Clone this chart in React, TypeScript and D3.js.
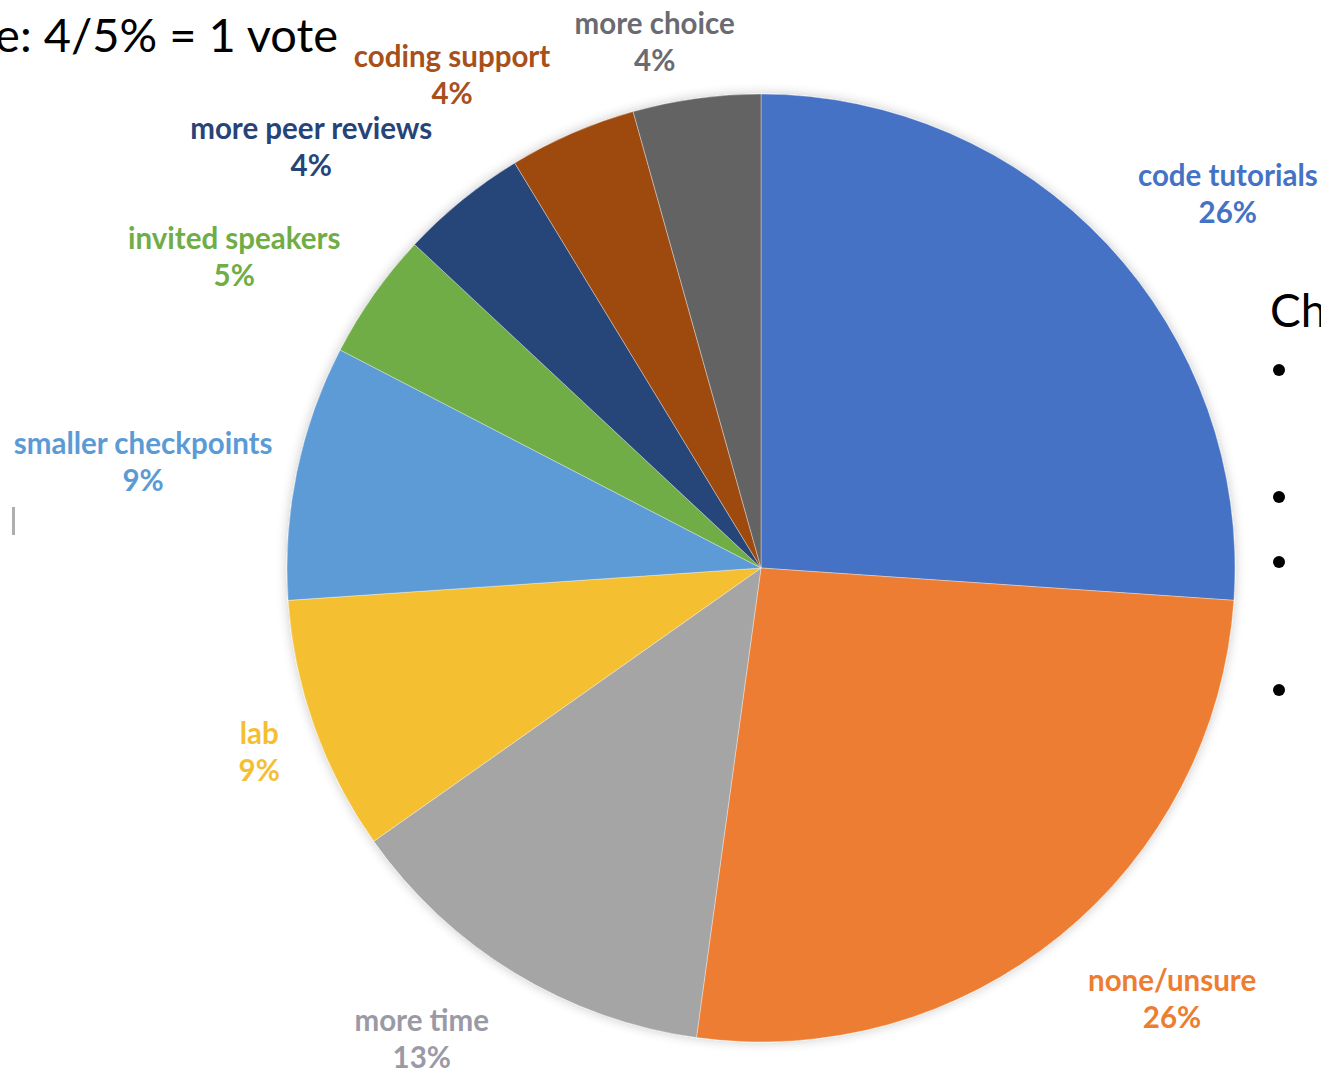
import React, { useEffect, useRef } from "react";
import * as d3 from "d3";

const categories = [
  "code tutorials",
  "none/unsure",
  "more time",
  "lab",
  "smaller checkpoints",
  "invited speakers",
  "more peer reviews",
  "coding support",
  "more choice",
];
const votes = [6, 6, 3, 2, 2, 1, 1, 1, 1];
const percentLabels = ["26%", "26%", "13%", "9%", "9%", "5%", "4%", "4%", "4%"];
const sliceColors = [
  "#4472C4",
  "#ED7D31",
  "#A5A5A5",
  "#F5BF33",
  "#5B9BD5",
  "#70AD47",
  "#264478",
  "#9E480E",
  "#636363",
];
const labelColors = [
  "#4472C4",
  "#ED7D31",
  "#9A9AA6",
  "#F5BF33",
  "#5B9BD5",
  "#70AD47",
  "#264478",
  "#A8501C",
  "#6A6A72",
];
const noteText = "e: 4/5% = 1 vote";
const sideHeading = "Ch";
const bulletCount = 4;

// layout (not data): label placement as [angle in degrees clockwise from top, distance from pie centre]
const LABEL_POLAR: [number, number][] = [
  [51.2, 599],
  [136.3, 595],
  [215.8, 580],
  [250.0, 534],
  [279.8, 627],
  [300.6, 612],
  [313.2, 617],
  [328.0, 583],
  [348.6, 538],
];

const W = 1321;
const H = 1068;

export default function App() {
  const ref = useRef<SVGSVGElement | null>(null);

  useEffect(() => {
    const svg = d3.select(ref.current);
    svg.selectAll("*").remove();

    const cx = 761;
    const cy = 568;
    const r = 474;

    const defs = svg.append("defs");
    const f = defs
      .append("filter")
      .attr("id", "shadow")
      .attr("x", "-10%")
      .attr("y", "-10%")
      .attr("width", "120%")
      .attr("height", "120%");
    f.append("feGaussianBlur").attr("in", "SourceAlpha").attr("stdDeviation", 6).attr("result", "b");
    f.append("feComponentTransfer")
      .attr("in", "b")
      .attr("result", "s")
      .append("feFuncA")
      .attr("type", "linear")
      .attr("slope", 0.22);
    const m = f.append("feMerge");
    m.append("feMergeNode").attr("in", "s");
    m.append("feMergeNode").attr("in", "SourceGraphic");

    svg.append("rect").attr("width", W).attr("height", H).attr("fill", "#ffffff");

    const pie = d3
      .pie<number>()
      .sort(null)
      .value((d) => d);
    const arcs = pie(votes);
    const arc = d3.arc<d3.PieArcDatum<number>>().innerRadius(0).outerRadius(r);

    const g = svg.append("g").attr("transform", `translate(${cx},${cy})`);
    g.append("g")
      .attr("filter", "url(#shadow)")
      .selectAll("path")
      .data(arcs)
      .join("path")
      .attr("d", arc)
      .attr("fill", (_, i) => sliceColors[i])
      .attr("stroke", "rgba(255,255,255,0.35)")
      .attr("stroke-width", 1);

    arcs.forEach((_a, i) => {
      const [deg, dist] = LABEL_POLAR[i];
      const th = (deg * Math.PI) / 180;
      const t = g
        .append("text")
        .attr("text-anchor", "middle")
        .attr("font-family", "Lato, 'Open Sans', sans-serif")
        .attr("font-weight", 700)
        .attr("font-size", 29.5)
        .attr("fill", labelColors[i]);
      t.append("tspan").attr("x", 0).attr("dy", 0).text(categories[i]);
      t.append("tspan").attr("x", 0).attr("dy", 37).text(percentLabels[i]);
      const bb = (t.node() as SVGTextElement).getBBox();
      const ccx = dist * Math.sin(th);
      const ccy = -dist * Math.cos(th);
      const bcx = bb.x + bb.width / 2;
      const bcy = bb.y + bb.height / 2;
      t.attr("transform", `translate(${ccx - bcx},${ccy - bcy})`);
    });

    svg
      .append("text")
      .attr("x", 338)
      .attr("y", 52)
      .attr("text-anchor", "end")
      .attr("font-family", "Lato, 'Open Sans', sans-serif")
      .attr("font-size", 47)
      .attr("fill", "#000")
      .text(noteText);

    svg
      .append("text")
      .attr("x", 1270)
      .attr("y", 327)
      .attr("font-family", "Lato, 'Open Sans', sans-serif")
      .attr("font-size", 46)
      .attr("fill", "#000")
      .text(sideHeading);

    const bulletY = d3
      .scaleOrdinal<number, number>()
      .domain(d3.range(bulletCount))
      .range([370, 497, 562, 690]);
    svg
      .append("g")
      .selectAll("circle")
      .data(d3.range(bulletCount))
      .join("circle")
      .attr("cx", 1279)
      .attr("cy", (d) => bulletY(d))
      .attr("r", 6)
      .attr("fill", "#000");

    svg
      .append("rect")
      .attr("x", 12)
      .attr("y", 507)
      .attr("width", 3)
      .attr("height", 28)
      .attr("fill", "#9a9a9a")
      .attr("opacity", 0.8);
  }, []);

  return (
    <div style={{ position: "absolute", left: 0, top: 0, width: W, height: H, overflow: "hidden" }}>
      <svg ref={ref} width={W} height={H} style={{ display: "block" }} />
    </div>
  );
}
